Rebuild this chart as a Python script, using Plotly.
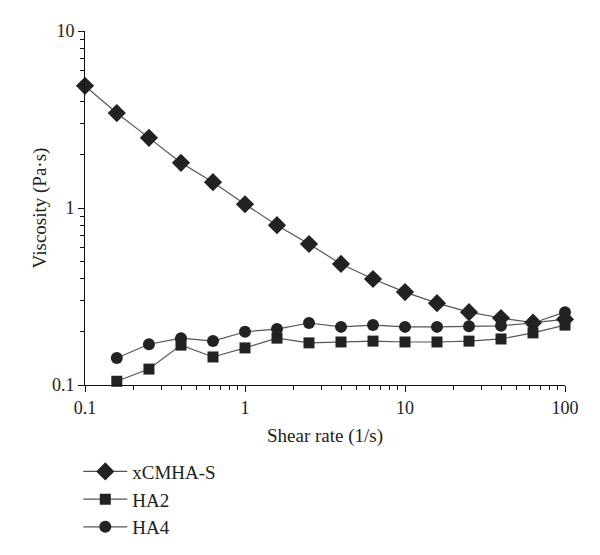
import plotly.graph_objects as go

shear_rate = [0.1, 0.158, 0.251, 0.398, 0.631, 1.0, 1.585, 2.512, 3.981, 6.31, 10.0, 15.85, 25.12, 39.81, 63.1, 100.0]
xcmha_s = [4.9, 3.44, 2.49, 1.80, 1.40, 1.05, 0.80, 0.626, 0.483, 0.397, 0.335, 0.29, 0.258, 0.239, 0.225, 0.235]
shear_rate_ha = shear_rate[1:]
ha2 = [0.105, 0.123, 0.168, 0.144, 0.162, 0.184, 0.173, 0.175, 0.177, 0.175, 0.175, 0.177, 0.182, 0.197, 0.218]
ha4 = [0.142, 0.170, 0.184, 0.177, 0.200, 0.207, 0.224, 0.213, 0.218, 0.213, 0.213, 0.215, 0.216, 0.224, 0.258]

x_ticks = [0.1, 1, 10, 100]
x_ticktext = ["0.1", "1", "10", "100"]
y_ticks = [0.1, 1, 10]
y_ticktext = ["0.1", "1", "10"]

minor_x = [m * d for d in (0.1, 1, 10) for m in range(2, 10)]
minor_y = [m * d for d in (0.1, 1) for m in range(2, 10)]

FONT = "Liberation Serif"
MC = "#222222"
LC = "#555555"
TC = "#222222"

fig = go.Figure()
series = [
    ("xCMHA-S", shear_rate, xcmha_s, "diamond", 14),
    ("HA2", shear_rate_ha, ha2, "square", 11),
    ("HA4", shear_rate_ha, ha4, "circle", 12),
]
for i, (name, xs, ys, sym, sz) in enumerate(series):
    fig.add_trace(go.Scatter(
        x=xs, y=ys, name=name, mode="lines+markers",
        line=dict(color=LC, width=1.2),
        marker=dict(symbol=sym, size=sz, color=MC, line=dict(width=0)),
        cliponaxis=False, legendgroup=f"g{i}",
    ))

axis_common = dict(
    showgrid=False, zeroline=False, showline=True, linecolor="#111111", linewidth=1,
    ticks="outside", ticklen=6, tickwidth=1, tickcolor="#111111",
    tickfont=dict(family=FONT, size=18, color=TC),
    mirror=False,
)
fig.update_xaxes(
    type="log", range=[-1, 2], tickvals=x_ticks, ticktext=x_ticktext,
    minor=dict(tickvals=minor_x, ticks="outside", ticklen=4, tickwidth=1, tickcolor="#111111", showgrid=False),
    title=dict(text="Shear rate (1/s)", font=dict(family=FONT, size=19, color=TC), standoff=12),
    **axis_common,
)
fig.update_yaxes(
    type="log", range=[-1, 1], tickvals=y_ticks, ticktext=y_ticktext,
    minor=dict(tickvals=minor_y, ticks="outside", ticklen=4, tickwidth=1, tickcolor="#111111", showgrid=False),
    title=dict(text="Viscosity (Pa·s)", font=dict(family=FONT, size=19, color=TC), standoff=0),
    **axis_common,
)

fig.update_layout(
    width=592, height=547,
    margin=dict(l=77, r=35, t=23, b=170, autoexpand=False),
    paper_bgcolor="white", plot_bgcolor="white",
    showlegend=True,
    legend=dict(
        x=-0.014, y=-0.191, xanchor="left", yanchor="top",
        font=dict(family=FONT, size=19, color=TC),
        tracegroupgap=0, bgcolor="rgba(0,0,0,0)",
        itemwidth=44,
    ),
)

fig.write_html("out.html")
